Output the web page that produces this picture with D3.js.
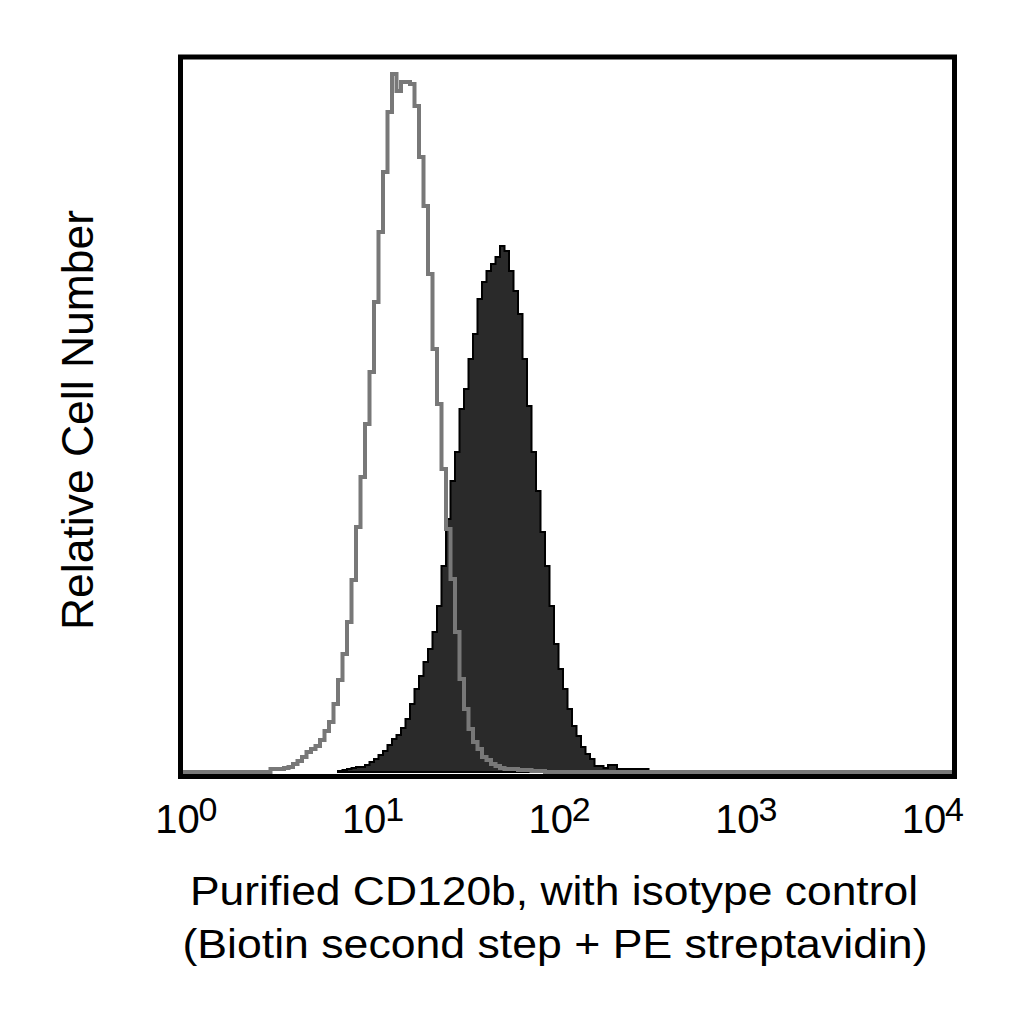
<!DOCTYPE html>
<html>
<head>
<meta charset="utf-8">
<script src="https://cdn.jsdelivr.net/npm/d3@7"></script>
<style>
  html, body { margin: 0; padding: 0; background: #fff; }
  svg { display: block; }
  text { font-family: "Liberation Sans", Arial, Helvetica, sans-serif; fill: #000; }
</style>
</head>
<body>
<svg id="chart" width="1024" height="1024"></svg>
<script>
// ---- data ----
const binsPerDecade = 43;          // histogram channels per decade (log scale)
const tickValues = [1, 10, 100, 1000, 10000];
const tickBase = "10";
const tickExponents = ["0", "1", "2", "3", "4"];
const xTitleLines = ["Purified CD120b, with isotype control",
                     "(Biotin second step + PE streptavidin)"];
const yTitle = "Relative Cell Number";

// isotype control (grey outline): first bin index and counts per bin
const isoStart = 20;
const isoCounts = [3, 3, 3, 4, 5, 8, 11, 15, 20, 23,
                   26, 32, 41, 50, 68, 92, 118, 150, 192, 245,
                   295, 348, 400, 470, 540, 600, 660, 698, 681, 690,
                   690, 688, 666, 615, 566, 498, 423, 368, 303, 243,
                   193, 140, 93, 63, 43, 30, 23, 15, 12, 8,
                   6, 4, 3, 3, 3, 2, 2, 2, 1, 1, 1];

// CD120b stained (black filled): first bin index and counts per bin
const cdStart = 35;
const cdCounts = [1, 2, 3, 4, 5, 5, 7, 10, 13, 17,
                  21, 27, 33, 37, 44, 53, 68, 83, 96, 110,
                  123, 140, 166, 206, 253, 291, 320, 363, 383, 413,
                  438, 473, 490, 501, 508, 515, 526, 521, 501, 481,
                  458, 413, 366, 320, 281, 240, 206, 166, 128, 103,
                  83, 63, 46, 36, 25, 18, 13, 6, 6, 4,
                  7, 7, 3, 3, 3, 3, 3, 3, 3, 0,
                  1, 0, 0, 0, 1];

// ---- layout ----
const svg = d3.select("#chart");
const plot = { left: 180.5, right: 954.5, top: 57, bottom: 776.5 };

const x = d3.scaleLog().domain([1, 1e4]).range([plot.left, plot.right]);
const y = d3.scaleLinear().domain([0, 720]).range([772, 52]);
// tick label anchor positions (labels in the reference sit on a slightly narrower spacing)
const labelX = d3.scaleLog().domain([1, 1e4]).range([177.5, 924]);

const totalBins = 4 * binsPerDecade;
const edge = i => Math.pow(10, i / binsPerDecade);

function toBins(start, counts, fullRange) {
  const out = [];
  if (fullRange) {
    for (let i = 0; i < totalBins; i++) {
      const k = i - start;
      out.push({ i, v: (k >= 0 && k < counts.length) ? counts[k] : 0 });
    }
    out.push({ i: totalBins, v: 0 });
  } else {
    counts.forEach((v, k) => out.push({ i: start + k, v }));
    out.push({ i: start + counts.length, v: 0 });
  }
  return out;
}

const cdBins = toBins(cdStart, cdCounts, false);
const isoBins = toBins(isoStart, isoCounts, true);

// filled black histogram
const area = d3.area()
  .curve(d3.curveStepAfter)
  .x(d => x(edge(d.i)))
  .y0(y(0))
  .y1(d => y(d.v));

svg.append("path")
  .datum(cdBins)
  .attr("d", area)
  .attr("fill", "#2a2a2a")
  .attr("stroke", "#000")
  .attr("stroke-width", 2)
  .attr("stroke-linejoin", "miter");

// grey isotype outline (drawn on top)
const line = d3.line()
  .curve(d3.curveStepAfter)
  .x(d => x(edge(d.i)))
  .y(d => y(d.v));

svg.append("path")
  .datum(isoBins)
  .attr("d", line)
  .attr("fill", "none")
  .attr("stroke", "#787878")
  .attr("stroke-width", 4);

// frame
svg.append("rect")
  .attr("x", plot.left).attr("y", plot.top)
  .attr("width", plot.right - plot.left)
  .attr("height", plot.bottom - plot.top)
  .attr("fill", "none")
  .attr("stroke", "#000")
  .attr("stroke-width", 5);

// tick labels 10^n
const tl = svg.append("g").selectAll("g")
  .data(tickValues)
  .join("g")
  .attr("transform", d => `translate(${labelX(d)},833)`);

tl.append("text")
  .attr("text-anchor", "middle")
  .attr("font-size", 40)
  .text(tickBase);

tl.append("text")
  .attr("x", 21)
  .attr("y", -12)
  .attr("text-anchor", "start")
  .attr("font-size", 34)
  .text((d, i) => tickExponents[i]);

// x title
svg.append("text")
  .attr("x", 554).attr("y", 905)
  .attr("text-anchor", "middle")
  .attr("font-size", 41)
  .attr("textLength", 728)
  .attr("lengthAdjust", "spacingAndGlyphs")
  .text(xTitleLines[0]);

svg.append("text")
  .attr("x", 555).attr("y", 958)
  .attr("text-anchor", "middle")
  .attr("font-size", 41)
  .attr("textLength", 745)
  .attr("lengthAdjust", "spacingAndGlyphs")
  .text(xTitleLines[1]);

// y title
svg.append("text")
  .attr("transform", "translate(93,420) rotate(-90)")
  .attr("text-anchor", "middle")
  .attr("font-size", 45)
  .attr("textLength", 420)
  .attr("lengthAdjust", "spacingAndGlyphs")
  .text(yTitle);
</script>
</body>
</html>
